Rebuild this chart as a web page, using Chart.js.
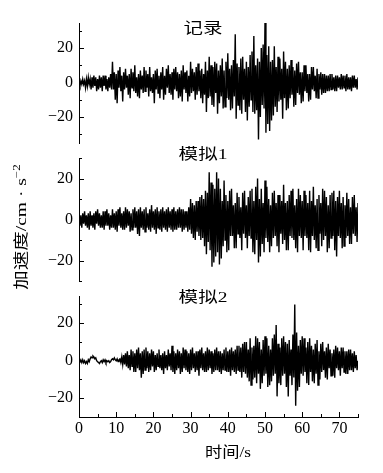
<!DOCTYPE html>
<html>
<head>
<meta charset="utf-8">
<script src="https://cdn.jsdelivr.net/npm/chart.js@4.4.0/dist/chart.umd.min.js"></script>
<style>
  body { margin: 0; background: #fff; }
  #wrap { position: relative; width: 383px; height: 473px; }
  canvas { position: absolute; left: 0; top: 0; }
</style>
</head>
<body>
<div id="wrap">
  <canvas id="c1" width="383" height="473"></canvas>
  <canvas id="c2" width="383" height="473"></canvas>
  <canvas id="c3" width="383" height="473"></canvas>
</div>
<script>
// sampling step of the traces (s)
const dt = 0.25;

// 记录 (recorded), cm/s^2, 4 samples per second, 0..75 s
const recorded = [
  0,-2,1,-1, 2,-1,1,-3, 2,-2,3,-1, 2,-4,3,-3, 4,-2,3,-5,
  2,-4,4,-3, 3,-5,4,-2, 4,-4,2,-5, 3,-3,5,-4, 12,-4,6,-10,
  5,-12,7,-3, 9,-5,4,-11, 6,-4,8,-3, 4,-7,5,-9, 8,-3,6,-5,
  10,-6,3,-8, 5,-9,7,-4, 4,-6,9,-5, 7,-3,5,-8, 9,-5,3,-6,
  5,-12,7,-4, 8,-6,4,-9, 6,-4,9,-10, 4,-7,8,-3, 10,-6,5,-7,
  6,-10,8,-4, 9,-5,6,-9, 5,-8,7,-11, 10,-4,6,-6, 7,-11,4,-8,
  12,-6,8,-5, 6,-10,9,-7, 11,-5,7,-9, 8,-12,5,-7, 12,-17,7,-9,
  15,-8,10,-13, 9,-14,12,-6, 11,-18,7,-12, 10,-8,14,-15, 7,-14,12,-9,
  17,-10,8,-16, 10,-15,13,-8, 28,-21,11,-13, 9,-16,14,-18, 15,-10,8,-17,
  12,-22,9,-14, 16,-10,18,-17, 27,-18,10,-16, 14,-33,12,-20, 20,-13,22,-15,
  35,-29,16,-24, 21,-28,12,-22, 13,-19,21,-14, 9,-17,15,-11, 14,-10,8,-21,
  18,-9,12,-16, 8,-15,10,-9, 13,-7,9,-14, 7,-13,11,-6, 12,-7,6,-12,
  6,-11,10,-5, 10,-6,5,-11, 5,-10,9,-4, 9,-5,4,-9, 8,-9,5,-4,
  6,-7,5,-6, 5,-6,4,-5, 4,-5,5,-4, 5,-4,3,-5, 4,-5,4,-3,
  3,-4,5,-4, 4,-3,4,-5, 5,-4,3,-4, 3,-5,4,-3, 4,-3,2,-4,
  3
];

// 模拟1 (simulated 1)
const simulated1 = [
  0,-3,2,-4, 3,-2,4,-3, 2,-4,3,-5, 4,-3,2,-4, 3,-5,4,-2,
  5,-3,3,-4, 2,-4,4,-5, 4,-3,5,-3, 3,-5,2,-4, 5,-4,3,-5,
  4,-6,5,-3, 6,-4,3,-5, 4,-5,6,-4, 5,-3,4,-6, 3,-5,5,-4,
  6,-4,4,-7, 5,-8,6,-4, 4,-5,5,-6, 6,-4,3,-5, 5,-6,7,-4,
  4,-5,5,-7, 6,-4,4,-5, 5,-6,6,-4, 4,-5,5,-6, 6,-4,4,-5,
  5,-6,6,-5, 4,-5,5,-4, 6,-4,5,-6, 5,-5,4,-4, 4,-6,6,-5,
  10,-7,8,-9, 7,-10,9,-6, 9,-8,11,-10, 12,-9,10,-13, 14,-17,13,-11,
  23,-15,18,-23, 17,-21,15,-18, 23,-16,20,-22, 15,-19,9,-13, 19,-10,12,-16,
  9,-15,14,-8, 15,-8,7,-14, 8,-14,13,-7, 11,-9,6,-15, 13,-7,14,-9,
  7,-14,11,-8, 14,-9,15,-16, 9,-17,16,-10, 20,-21,10,-18, 15,-12,8,-16,
  19,-9,16,-11, 10,-16,7,-13, 13,-9,14,-8, 8,-13,12,-16, 12,-7,9,-12,
  17,-10,8,-15, 9,-15,12,-8, 14,-9,15,-10, 7,-14,10,-16, 15,-8,12,-9,
  9,-15,14,-8, 12,-9,8,-15, 14,-16,9,-8, 16,-10,7,-14, 10,-15,12,-7,
  8,-13,15,-10, 14,-8,11,-16, 7,-14,12,-9, 13,-8,14,-15, 9,-18,11,-8,
  14,-9,8,-14, 11,-13,7,-9, 13,-8,10,-12, 6,-12,11,-7, 12,-8,6,-11,
  8
];

// 模拟2 (simulated 2)
const simulated2 = [
  0,-0.5,0.5,-1, 0.5,-1,0,-1.5, -0.5,-1.5,0.5,-0.5, 1,2,1.5,2.5, 2,1,1.5,0,
  -0.5,-1,-1.5,-0.5, 0,-1,0.5,-0.5, 0.5,-1,0,-0.5, 0,-1,-0.5,0.5, 1,0.5,1.5,0.5,
  0,1,-0.5,0.5, 1,-1,2,-2, 3,-2,4,-3, 5,-4,3,-5, 6,-3,5,-6,
  4,-6,6,-4, 7,-5,4,-9, 5,-7,6,-5, 7,-4,5,-6, 4,-5,6,-3,
  5,-6,3,-5, 4,-3,6,-4, 3,-5,4,-7, 5,-4,3,-5, 6,-3,4,-5,
  8,-6,5,-7, 4,-5,6,-4, 5,-7,4,-6, 7,-4,6,-5, 5,-6,4,-7,
  6,-5,7,-4, 4,-6,5,-5, 5,-8,6,-4, 7,-5,4,-6, 5,-6,7,-5,
  6,-4,5,-7, 4,-6,6,-5, 7,-5,5,-6, 5,-7,4,-5, 6,-5,7,-6,
  5,-6,6,-8, 7,-5,5,-6, 6,-7,8,-5, 8,-6,7,-9, 9,-6,10,-7,
  10,-9,6,-11, 12,-13,7,-10, 8,-9,13,-12, 12,-7,10,-15, 6,-12,11,-8,
  13,-7,12,-14, 8,-13,6,-11, 12,-8,14,-7, 19,-19,9,-12, 7,-13,12,-8,
  13,-7,10,-14, 9,-19,11,-8, 6,-13,14,-9, 30,-24,15,-16, 8,-14,11,-7,
  13,-8,12,-6, 7,-12,10,-13, 12,-6,8,-11, 6,-12,9,-7, 11,-13,5,-10,
  9,-6,10,-5, 5,-9,7,-10, 9,-4,6,-8, 4,-8,6,-9, 8,-4,7,-5,
  5,-8,7,-4, 7,-6,5,-7, 5,-7,6,-5, 6,-5,4,-6, 5,-4,3,-5,
  0
];

const panelTitles = ['记录', '模拟1', '模拟2'];
const yTickValues = [-30, -20, -10, 0, 10, 20, 30];
const xTickValues = [0, 5, 10, 15, 20, 25, 30, 35, 40, 45, 50, 55, 60, 65, 70, 75];
const xTitle = '时间/s';
const yTitle = '加速度/cm · s';
const yTitleSup = '−2';

const serif = "'Liberation Serif', 'Noto Sans CJK SC', serif";

function wideText(ctx, text, x, y, size, sx) {
  ctx.save();
  ctx.translate(x, y);
  ctx.scale(sx, 1);
  ctx.font = size + 'px ' + serif;
  ctx.fillStyle = '#000';
  ctx.textAlign = 'center';
  ctx.textBaseline = 'middle';
  ctx.fillText(text, 0, 0);
  ctx.restore();
}

// inward tick marks + panel texts
const decor = {
  id: 'decor',
  afterDraw(chart, args, opts) {
    const ctx = chart.ctx;
    const a = chart.chartArea;
    const x = chart.scales.x, y = chart.scales.y;
    ctx.save();
    ctx.strokeStyle = '#000';
    ctx.lineWidth = 1;
    ctx.beginPath();
    y.ticks.forEach(t => {
      const py = Math.round(y.getPixelForValue(t.value)) + 0.5;
      const len = t.value % 20 === 0 ? 5 : 3;
      ctx.moveTo(a.left, py);
      ctx.lineTo(a.left + len, py);
    });
    if (x.options.display) {
      x.ticks.forEach(t => {
        const px = Math.round(x.getPixelForValue(t.value)) + 0.5;
        const len = t.value % 10 === 0 ? 5 : 3;
        ctx.moveTo(px, a.bottom);
        ctx.lineTo(px, a.bottom - len);
      });
    }
    ctx.stroke();
    ctx.restore();

    wideText(ctx, opts.title, opts.titleX, opts.titleY, 15, 1.3);

    if (opts.yTitle) {
      ctx.save();
      ctx.translate(22, 227);
      ctx.rotate(-Math.PI / 2);
      ctx.scale(1.3, 1);
      ctx.fillStyle = '#000';
      ctx.textBaseline = 'middle';
      ctx.font = '15px ' + serif;
      const w1 = ctx.measureText(yTitle).width;
      ctx.font = '10px ' + serif;
      const w2 = ctx.measureText(yTitleSup).width;
      const x0 = -(w1 + w2) / 2;
      ctx.font = '15px ' + serif;
      ctx.textAlign = 'left';
      ctx.fillText(yTitle, x0, 0);
      ctx.font = '10px ' + serif;
      ctx.fillText(yTitleSup, x0 + w1, -5);
      ctx.restore();
    }
    if (opts.xTitle) {
      wideText(ctx, xTitle, 228, 453, 15, 1.15);
    }
  }
};

function makePanel(id, values, cfg) {
  const points = values.map((v, i) => ({ x: i * dt, y: v }));
  return new Chart(document.getElementById(id), {
    type: 'line',
    data: {
      datasets: [{
        data: points,
        borderColor: '#000',
        borderWidth: 1.4,
        pointRadius: 0,
        tension: 0,
        fill: false
      }]
    },
    options: {
      responsive: false,
      animation: false,
      layout: { padding: { top: cfg.top, bottom: cfg.bottom, left: 0, right: 25 } },
      plugins: {
        legend: { display: false },
        tooltip: { enabled: false },
        decor: cfg.decor
      },
      scales: {
        x: {
          type: 'linear',
          display: cfg.showX,
          min: 0,
          max: 75,
          afterBuildTicks: s => { s.ticks = xTickValues.map(v => ({ value: v })); },
          afterFit: s => { s.height = cfg.showX ? 56 : 0; },
          grid: { display: false, drawTicks: false },
          border: { display: true, color: '#000', width: 1 },
          ticks: {
            autoSkip: false,
            maxRotation: 0,
            padding: 2,
            color: '#000',
            font: { family: serif, size: 16 },
            callback: v => (v % 10 === 0 ? String(v) : '')
          }
        },
        y: {
          min: cfg.yMin,
          max: cfg.yMax,
          afterBuildTicks: s => { s.ticks = yTickValues.filter(v => v >= cfg.yMin && v <= cfg.yMax).map(v => ({ value: v })); },
          afterFit: s => { s.width = 79; },
          grid: { display: false, drawTicks: false },
          border: { display: true, color: '#000', width: 1 },
          ticks: {
            autoSkip: false,
            padding: 6,
            color: '#000',
            font: { family: serif, size: 16 },
            callback: v => (v % 20 === 0 ? (v < 0 ? '−' + Math.abs(v) : String(v)) : '')
          }
        }
      }
    },
    plugins: [decor]
  });
}

makePanel('c1', recorded, {
  top: 23, bottom: 330, yMin: -35, yMax: 34.5, showX: false,
  decor: { title: panelTitles[0], titleX: 203, titleY: 29 }
});
makePanel('c2', simulated1, {
  top: 158, bottom: 192, yMin: -30, yMax: 30, showX: false,
  decor: { title: panelTitles[1], titleX: 203, titleY: 155, yTitle: true }
});
makePanel('c3', simulated2, {
  top: 296, bottom: 0, yMin: -30, yMax: 34.5, showX: true,
  decor: { title: panelTitles[2], titleX: 203, titleY: 298, xTitle: true }
});
</script>
</body>
</html>
